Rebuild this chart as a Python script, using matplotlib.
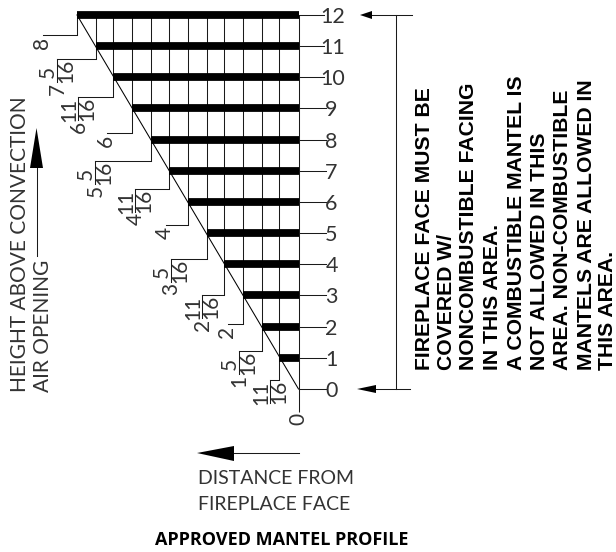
import matplotlib
matplotlib.use("Agg")
import matplotlib.pyplot as plt
from matplotlib.transforms import Affine2D
from matplotlib.patches import Polygon

heights = [0, 1, 2, 3, 4, 5, 6, 7, 8, 9, 10, 11, 12]
depths = [0, 11/16, 21/16, 2, 43/16, 53/16, 4, 75/16, 85/16, 6, 107/16, 117/16, 8]
whole_labels = ["", "", "1", "2", "2", "3", "4", "4", "5", "6", "6", "7", "8"]
num_labels = ["", "11", "5", "", "11", "5", "", "11", "5", "", "11", "5", ""]
den_labels = ["", "16", "16", "", "16", "16", "", "16", "16", "", "16", "16", ""]
height_labels = ["0", "1", "2", "3", "4", "5", "6", "7", "8", "9", "10", "11", "12"]

# layout of the leaders, in image pixels
leader_y = [412, 380, 351, 324, 295, 259, 225, 189, 161, 133, 97, 59, 35]
leader_end = [298, 270, 239, 228, 202, 171, 166, 135, 95, 107, 78, 57, 43]

W, H = 616, 552
X0, XU, Y0, YU = 298.5, 27.69, 389.0, 31.17

fig = plt.figure(figsize=(W / 100, H / 100), dpi=100)
ax = fig.add_axes([0, 0, 1, 1])
ax.set_xlim(X0 / XU, (X0 - W) / XU)
ax.set_ylim((Y0 - H) / YU, Y0 / YU)
ax.axis("off")
px = Affine2D().scale(1, -1).translate(0, H)

LW = 0.75
LINE = "#1a1a1a"
LIGHT = dict(family=["Lato", "DejaVu Sans"], weight="normal", color="#333333")


def y_of(p):
    return (Y0 - p) / YU


def x_of(p):
    return (X0 - p) / XU


# diagonal, bars, grid lines
ax.plot([depths[0], depths[-1]], [heights[0], heights[-1]], color="black", lw=0.75)
for h, d, ly in zip(heights, depths, leader_y):
    ax.plot([d, d], [heights[-1], y_of(ly)], color=LINE, lw=LW, solid_capstyle="butt")
    if h > 0:
        ax.plot([0, d], [h, h], color="black", lw=5.6, solid_capstyle="butt")
    ax.plot([0, x_of(324 if h > 9 else 326)], [h, h], color=LINE, lw=LW)
    ax.text(x_of(333 if h > 9 else 331.5), h, height_labels[h], fontsize=15.5, ha="center",
            va="center_baseline", transform=ax.transData, **LIGHT)

# leaders and depth labels
for h, d, ly, le, w, n, de in zip(heights, depths, leader_y, leader_end, whole_labels, num_labels, den_labels):
    if h == 0:
        ax.text(298.5, 419, "0", rotation=90, fontsize=15, ha="center", va="center", transform=px, **LIGHT)
        continue
    ax.plot([d, x_of(le)], [y_of(ly), y_of(ly)], color=LINE, lw=LW)
    if n:
        ax.plot([le, le], [ly, ly + 23], color=LINE, lw=LW, transform=px)
        ax.text(le - 9, ly + 13, n, rotation=90, fontsize=15, ha="center", va="center", transform=px, **LIGHT)
        ax.text(le + 9.5, ly + 12, de, rotation=90, fontsize=15, ha="center", va="center", transform=px, **LIGHT)
        if w:
            ax.text(le + 0.5, ly + 30, w, rotation=90, fontsize=15, ha="center", va="center", transform=px, **LIGHT)
    else:
        ax.text(le - 1, ly + 8, w, rotation=90, fontsize=15, ha="center", va="center", transform=px, **LIGHT)

# bracket on the right
ax.plot([396, 396], [15, 389], color=LINE, lw=LW, transform=px)
for y, tip, base, end in [(15, 360, 372, 412), (389, 357, 376, 410)]:
    ax.plot([base, end], [y, y], color=LINE, lw=LW, transform=px)
    ax.add_patch(Polygon([(tip, y), (base, y - 4), (base, y + 4)], closed=True, color="black", lw=0, transform=px))

# direction arrows
ax.plot([36.5, 36.5], [168, 256], color=LINE, lw=LW, transform=px)
ax.add_patch(Polygon([(36.5, 128), (30, 168), (43, 168)], closed=True, color="black", lw=0, transform=px))
ax.plot([234, 299], [453, 453], color=LINE, lw=LW, transform=px)
ax.add_patch(Polygon([(197, 453), (234, 446), (234, 461)], closed=True, color="black", lw=0, transform=px))

# captions
ax.text(20, 392, "HEIGHT ABOVE CONVECTION", rotation=90, fontsize=15, ha="center", va="bottom", transform=px, **LIGHT)
ax.text(43, 392, "AIR OPENING", rotation=90, fontsize=15, ha="center", va="bottom", transform=px, **LIGHT)
ax.text(198, 478, "DISTANCE FROM", fontsize=14, ha="left", va="center", transform=px, **LIGHT)
ax.text(198, 504, "FIREPLACE FACE", fontsize=14, ha="left", va="center", transform=px, **LIGHT)
ax.text(155, 540, "APPROVED MANTEL PROFILE", fontsize=13, weight="bold", family="Open Sans",
        ha="left", va="center", color="black", transform=px)

note_x = [424, 446, 469, 493, 516, 539.5, 563, 586, 607.5]
note_lines = ["FIREPLACE FACE MUST BE", "COVERED W/", "NONCOMBUSTIBLE FACING", "IN THIS AREA.",
              "A COMBUSTIBLE MANTEL IS", "NOT ALLOWED IN THIS", "AREA. NON-COMBUSTIBLE",
              "MANTELS ARE ALLOWED IN", "THIS AREA."]
for x, t in zip(note_x, note_lines):
    ax.text(x, 370, t, rotation=90, fontsize=15.2, weight="bold", family="Liberation Sans",
            ha="center", va="bottom", color="black", transform=px)

fig.savefig("out.png", dpi=100)
